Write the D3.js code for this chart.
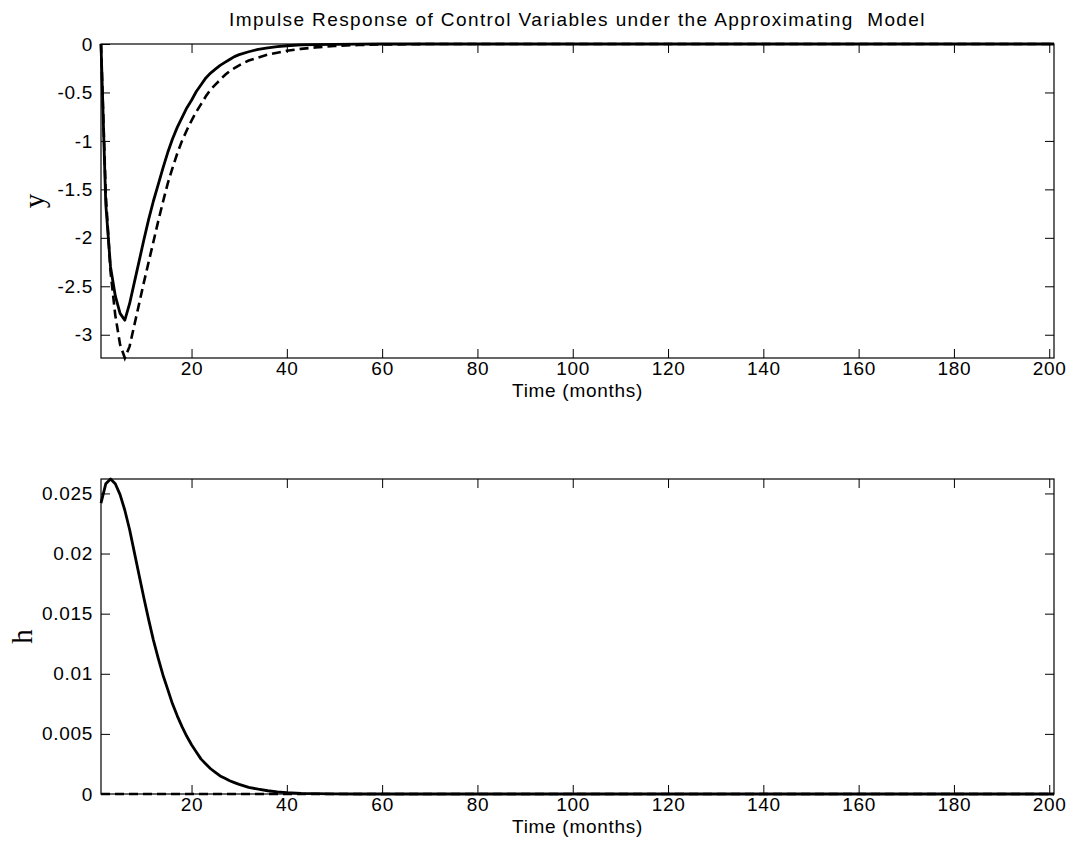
<!DOCTYPE html>
<html>
<head>
<meta charset="utf-8">
<script src="https://cdn.jsdelivr.net/npm/d3@7"></script>
<style>
  body { margin: 0; background: #fff; }
  text { font-family: Arial, "Liberation Sans", sans-serif; fill: #000; }
</style>
</head>
<body>
<svg id="graph" width="1073" height="856"></svg>
<script>
// sampled months (axis runs 1..201)
var months = [1,2,3,4,5,6,7,8,9,10,11,12,13,14,15,16,17,18,19,20,
  21,22,23,24,25,26,27,28,29,30,32,34,36,38,40,43,46,50,55,60,
  70,80,100,120,140,160,180,201];

// y response: solid and dashed
var ySolid = [0,-1.65,-2.3,-2.6,-2.78,-2.85,-2.68,-2.46,-2.24,-2.02,
  -1.81,-1.62,-1.45,-1.28,-1.12,-0.98,-0.86,-0.76,-0.66,-0.58,
  -0.49,-0.42,-0.35,-0.3,-0.26,-0.22,-0.19,-0.16,-0.13,-0.11,
  -0.08,-0.055,-0.04,-0.028,-0.018,-0.01,-0.006,-0.003,-0.001,0,
  0,0,0,0,0,0,0,0];
var yDashed = [0,-1.55,-2.35,-2.8,-3.1,-3.24,-3.12,-2.9,-2.68,-2.46,
  -2.25,-2.04,-1.83,-1.63,-1.44,-1.28,-1.13,-1.0,-0.89,-0.79,
  -0.7,-0.62,-0.54,-0.47,-0.42,-0.37,-0.32,-0.28,-0.25,-0.22,
  -0.17,-0.14,-0.11,-0.09,-0.07,-0.05,-0.035,-0.02,-0.01,-0.005,
  0,0,0,0,0,0,0,0];

// h response: solid and dashed
var hSolid = [0.0242,0.0258,0.0262,0.0258,0.0249,0.0236,0.0220,0.0201,0.0182,0.0163,
  0.0145,0.0128,0.0113,0.0099,0.0087,0.0075,0.0065,0.0056,0.0048,0.0041,
  0.0035,0.0029,0.0025,0.0021,0.0018,0.0015,0.0013,0.0011,0.00095,0.0008,
  0.00055,0.0004,0.00027,0.00018,0.00012,0.00006,0.00003,0.00001,0,0,
  0,0,0,0,0,0,0,0];
var hDashed = [0,0,0,0,0,0,0,0,0,0,
  0,0,0,0,0,0,0,0,0,0,
  0,0,0,0,0,0,0,0,0,0,
  0,0,0,0,0,0,0,0,0,0,
  0,0,0,0,0,0,0,0];

var xTicks = [20,40,60,80,100,120,140,160,180,200];
var yTicks = [0,-0.5,-1,-1.5,-2,-2.5,-3];
var yTickLabels = ["0","-0.5","-1","-1.5","-2","-2.5","-3"];
var hTicks = [0,0.005,0.01,0.015,0.02,0.025];
var hTickLabels = ["0","0.005","0.01","0.015","0.02","0.025"];

var titleText = "Impulse Response of Control Variables under the Approximating\u00a0 Model";

var svg = d3.select("#graph");
var plotLeft = 101, plotRight = 1054;
var tickLen = 9;

var panels = [
  {top: 44, bottom: 358, solid: ySolid, dashed: yDashed, ticks: yTicks, labels: yTickLabels, name: "y", nameX: 44},
  {top: 479, bottom: 794, solid: hSolid, dashed: hDashed, ticks: hTicks, labels: hTickLabels, name: "h", nameX: 32}
];

panels.forEach(drawPanel);

// title
svg.append("text")
  .attr("x", (plotLeft + plotRight) / 2)
  .attr("y", 26)
  .attr("text-anchor", "middle")
  .style("font-size", "19px")
  .style("letter-spacing", "1.4px")
  .text(titleText);

function styleAxis(g) {
  g.select(".domain").remove();
  g.selectAll("line").attr("stroke", "#000");
  g.selectAll("text")
    .attr("font-family", null)
    .style("font-size", "19px")
    .style("letter-spacing", "0.7px");
  g.attr("font-family", null).attr("font-size", null);
}

function drawPanel(p) {
  var x = d3.scaleLinear().domain([1, 201]).range([plotLeft, plotRight]);
  var all = p.solid.concat(p.dashed);
  var y = d3.scaleLinear()
    .domain([d3.min(all), d3.max(all)])
    .range([p.bottom, p.top]);

  var g = svg.append("g");

  // bottom axis with labels, ticks pointing inward
  g.append("g")
    .attr("transform", "translate(0," + p.bottom + ")")
    .call(d3.axisBottom(x).tickValues(xTicks).tickSizeInner(-tickLen).tickSizeOuter(0).tickPadding(3))
    .call(styleAxis);
  g.append("g")
    .attr("transform", "translate(0," + p.top + ")")
    .call(d3.axisTop(x).tickValues(xTicks).tickSizeInner(-tickLen).tickSizeOuter(0).tickFormat(""))
    .call(styleAxis);

  g.append("g")
    .attr("transform", "translate(" + plotLeft + ",0)")
    .call(d3.axisLeft(y).tickValues(p.ticks).tickSizeInner(-tickLen).tickSizeOuter(0).tickPadding(8)
      .tickFormat(function (d, i) { return p.labels[i]; }))
    .call(styleAxis);
  g.append("g")
    .attr("transform", "translate(" + plotRight + ",0)")
    .call(d3.axisRight(y).tickValues(p.ticks).tickSizeInner(-tickLen).tickSizeOuter(0).tickFormat(""))
    .call(styleAxis);

  // box
  g.append("rect")
    .attr("x", plotLeft)
    .attr("y", p.top)
    .attr("width", plotRight - plotLeft)
    .attr("height", p.bottom - p.top)
    .attr("fill", "none")
    .attr("stroke", "#000")
    .attr("stroke-width", 1.2);

  var line = d3.line()
    .x(function (d, i) { return x(months[i]); })
    .y(function (d) { return y(d); });

  g.append("path")
    .datum(p.dashed)
    .attr("d", line)
    .attr("fill", "none")
    .attr("stroke", "#000")
    .attr("stroke-width", 2.6)
    .attr("stroke-dasharray", "9,5");

  g.append("path")
    .datum(p.solid)
    .attr("d", line)
    .attr("fill", "none")
    .attr("stroke", "#000")
    .attr("stroke-width", 2.8)
    .attr("stroke-linejoin", "round");

  // x label
  g.append("text")
    .attr("x", (plotLeft + plotRight) / 2)
    .attr("y", p.bottom + 39)
    .attr("text-anchor", "middle")
    .style("font-size", "19px")
    .style("letter-spacing", "0.7px")
    .text("Time (months)");

  // y label, serif like the original
  g.append("text")
    .attr("transform", "translate(" + p.nameX + "," + ((p.top + p.bottom) / 2) + ") rotate(-90)")
    .attr("text-anchor", "middle")
    .style("font-family", "'Liberation Serif', 'Times New Roman', serif")
    .style("font-size", "29px")
    .text(p.name);
}
</script>
</body>
</html>
